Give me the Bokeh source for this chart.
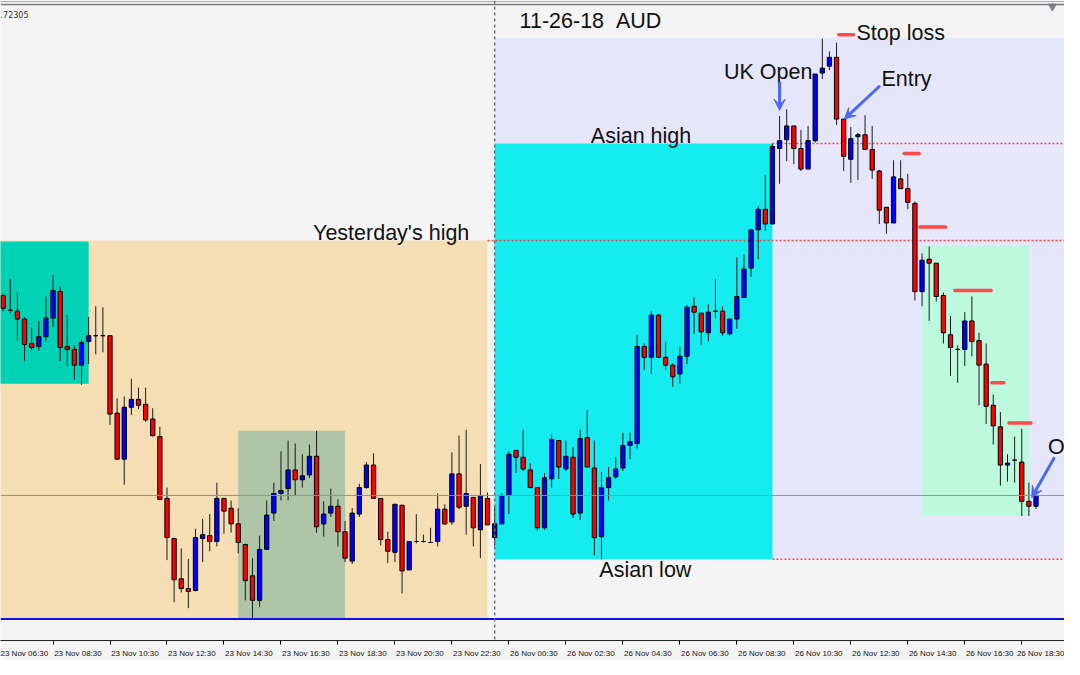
import numpy as np
from bokeh.plotting import figure
from bokeh.models import ColumnDataSource, FixedTicker, Span, Arrow, VeeHead
from bokeh.core.properties import value
from bokeh.embed import file_html
from bokeh.resources import INLINE

# AUDUSD M15 candles; bar 0 = 23 Nov 06:45, bar 69 = 26 Nov 00:00
open_ = [0.72015, 0.72000, 0.71999, 0.71991, 0.71966, 0.71963, 0.71973, 0.71992, 0.72019, 0.71963,
         0.71960, 0.71944, 0.71968, 0.71974, 0.71974, 0.71974, 0.71895, 0.71848, 0.71901, 0.71909,
         0.71904, 0.71889, 0.71871, 0.71808, 0.71767, 0.71726, 0.71716, 0.71714, 0.71767, 0.71770,
         0.71764, 0.71808, 0.71798, 0.71782, 0.71761, 0.71729, 0.71704, 0.71756, 0.71793, 0.71813,
         0.71818, 0.71837, 0.71827, 0.71832, 0.71851, 0.71782, 0.71793, 0.71800, 0.71774, 0.71744,
         0.71792, 0.71819, 0.71842, 0.71808, 0.71766, 0.71753, 0.71801, 0.71735, 0.71764, 0.71764,
         0.71763, 0.71764, 0.71797, 0.71784, 0.71833, 0.71800, 0.71809, 0.71776, 0.71808, 0.71768,
         0.71782, 0.71811, 0.71857, 0.71850, 0.71837, 0.71819, 0.71778, 0.71828, 0.71867, 0.71838,
         0.71850, 0.71793, 0.71870, 0.71839, 0.71769, 0.71819, 0.71830, 0.71839, 0.71862, 0.71864,
         0.71963, 0.71952, 0.71995, 0.71952, 0.71944, 0.71935, 0.71953, 0.72004, 0.71997, 0.71977,
         0.71999, 0.71999, 0.71976, 0.71991, 0.72013, 0.72043, 0.72082, 0.72103, 0.72088, 0.72165,
         0.72174, 0.72188, 0.72165, 0.72144, 0.72173, 0.72242, 0.72249, 0.72258, 0.72195, 0.72154,
         0.72177, 0.72179, 0.72164, 0.72142, 0.72105, 0.72089, 0.72134, 0.72124, 0.72109, 0.72019,
         0.72052, 0.72048, 0.72015, 0.71975, 0.71960, 0.71960, 0.71989, 0.71969, 0.71945, 0.71903,
         0.71881, 0.71842, 0.71847, 0.71845, 0.71805, 0.71800]
high = [0.72017, 0.72032, 0.72018, 0.71993, 0.71983, 0.71989, 0.72014, 0.72036, 0.72024, 0.71995,
        0.71964, 0.71970, 0.71993, 0.72004, 0.72003, 0.71974, 0.71910, 0.71912, 0.71930, 0.71921,
        0.71921, 0.71900, 0.71881, 0.71819, 0.71768, 0.71757, 0.71746, 0.71777, 0.71787, 0.71792,
        0.71824, 0.71808, 0.71806, 0.71798, 0.71761, 0.71747, 0.71770, 0.71806, 0.71824, 0.71856,
        0.71867, 0.71864, 0.71853, 0.71863, 0.71877, 0.71805, 0.71818, 0.71807, 0.71785, 0.71798,
        0.71823, 0.71845, 0.71854, 0.71808, 0.71774, 0.71802, 0.71801, 0.71764, 0.71792, 0.71771,
        0.71778, 0.71813, 0.71802, 0.71855, 0.71872, 0.71878, 0.71809, 0.71843, 0.71814, 0.71799,
        0.71813, 0.71856, 0.71857, 0.71878, 0.71844, 0.71819, 0.71834, 0.71873, 0.71867, 0.71867,
        0.71860, 0.71878, 0.71898, 0.71867, 0.71835, 0.71840, 0.71850, 0.71875, 0.71875, 0.71975,
        0.71966, 0.71999, 0.71996, 0.71968, 0.71946, 0.71963, 0.72005, 0.72013, 0.71997, 0.72006,
        0.72032, 0.72004, 0.71991, 0.72054, 0.72057, 0.72082, 0.72106, 0.72138, 0.72170, 0.72198,
        0.72205, 0.72188, 0.72184, 0.72188, 0.72241, 0.72277, 0.72264, 0.72273, 0.72195, 0.72187,
        0.72181, 0.72199, 0.72188, 0.72143, 0.72105, 0.72153, 0.72153, 0.72139, 0.72111, 0.72058,
        0.72065, 0.72048, 0.72018, 0.71994, 0.71964, 0.71998, 0.72014, 0.71977, 0.71966, 0.71914,
        0.71896, 0.71853, 0.71871, 0.71879, 0.71824, 0.71812]
low = [0.71999, 0.71997, 0.71969, 0.71948, 0.71959, 0.71959, 0.71968, 0.71983, 0.71948, 0.71943,
       0.71929, 0.71924, 0.71945, 0.71955, 0.71957, 0.71883, 0.71848, 0.71822, 0.71893, 0.71899,
       0.71886, 0.71871, 0.71807, 0.71745, 0.71702, 0.71712, 0.71696, 0.71713, 0.71743, 0.71754,
       0.71759, 0.71772, 0.71773, 0.71752, 0.71704, 0.71686, 0.71697, 0.71756, 0.71785, 0.71806,
       0.71806, 0.71811, 0.71819, 0.71829, 0.71773, 0.71769, 0.71789, 0.71759, 0.71743, 0.71741,
       0.71789, 0.71818, 0.71808, 0.71760, 0.71742, 0.71743, 0.71711, 0.71735, 0.71762, 0.71763,
       0.71763, 0.71759, 0.71781, 0.71781, 0.71797, 0.71771, 0.71759, 0.71747, 0.71781, 0.71760,
       0.71782, 0.71792, 0.71834, 0.71836, 0.71819, 0.71775, 0.71776, 0.71819, 0.71828, 0.71836,
       0.71788, 0.71786, 0.71840, 0.71750, 0.71746, 0.71806, 0.71828, 0.71836, 0.71848, 0.71859,
       0.71939, 0.71935, 0.71952, 0.71939, 0.71922, 0.71925, 0.71945, 0.71976, 0.71965, 0.71968,
       0.71992, 0.71974, 0.71974, 0.71981, 0.72013, 0.72034, 0.72052, 0.72081, 0.72088, 0.72129,
       0.72152, 0.72149, 0.72142, 0.72144, 0.72171, 0.72236, 0.72245, 0.72189, 0.72142, 0.72130,
       0.72133, 0.72164, 0.72134, 0.72088, 0.72078, 0.72089, 0.72124, 0.72103, 0.72010, 0.72004,
       0.71989, 0.72009, 0.71966, 0.71933, 0.71926, 0.71943, 0.71953, 0.71903, 0.71884, 0.71863,
       0.71821, 0.71825, 0.71824, 0.71790, 0.71790, 0.71797]
close = [0.72002, 0.72000, 0.71991, 0.71965, 0.71962, 0.71973, 0.71992, 0.72020, 0.71962, 0.71960,
         0.71944, 0.71967, 0.71974, 0.71974, 0.71974, 0.71894, 0.71848, 0.71901, 0.71909, 0.71903,
         0.71888, 0.71872, 0.71807, 0.71768, 0.71725, 0.71716, 0.71713, 0.71768, 0.71771, 0.71764,
         0.71808, 0.71795, 0.71782, 0.71763, 0.71724, 0.71704, 0.71756, 0.71791, 0.71813, 0.71816,
         0.71837, 0.71827, 0.71831, 0.71851, 0.71779, 0.71792, 0.71800, 0.71774, 0.71747, 0.71793,
         0.71819, 0.71842, 0.71808, 0.71766, 0.71754, 0.71802, 0.71734, 0.71764, 0.71764, 0.71764,
         0.71763, 0.71797, 0.71782, 0.71833, 0.71799, 0.71813, 0.71778, 0.71811, 0.71781, 0.71782,
         0.71811, 0.71853, 0.71850, 0.71838, 0.71819, 0.71778, 0.71829, 0.71868, 0.71840, 0.71851,
         0.71792, 0.71869, 0.71840, 0.71768, 0.71819, 0.71829, 0.71838, 0.71862, 0.71866, 0.71963,
         0.71952, 0.71995, 0.71952, 0.71944, 0.71932, 0.71953, 0.72003, 0.71998, 0.71978, 0.71998,
         0.71999, 0.71977, 0.71991, 0.72014, 0.72042, 0.72082, 0.72103, 0.72088, 0.72167, 0.72173,
         0.72188, 0.72165, 0.72144, 0.72173, 0.72241, 0.72247, 0.72258, 0.72195, 0.72157, 0.72175,
         0.72179, 0.72164, 0.72143, 0.72102, 0.72089, 0.72136, 0.72124, 0.72110, 0.72019, 0.72051,
         0.72048, 0.72014, 0.71977, 0.71962, 0.71960, 0.71989, 0.71968, 0.71944, 0.71902, 0.71882,
         0.71842, 0.71844, 0.71847, 0.71805, 0.71800, 0.71811]

# time axis labels (bar index of each label)
tick_bars = [-1, 7, 15, 23, 31, 39, 47, 55, 63, 71, 79, 87, 95, 103, 111, 119, 127, 135, 143]
tick_labels = ["23 Nov 06:30", "23 Nov 08:30", "23 Nov 10:30", "23 Nov 12:30", "23 Nov 14:30",
               "23 Nov 16:30", "23 Nov 18:30", "23 Nov 20:30", "23 Nov 22:30", "26 Nov 00:30",
               "26 Nov 02:30", "26 Nov 04:30", "26 Nov 06:30", "26 Nov 08:30", "26 Nov 10:30",
               "26 Nov 12:30", "26 Nov 14:30", "26 Nov 16:30", "26 Nov 18:30"]

# session levels
yesterday_high = 0.72071
yesterday_low = 0.71685
asian_high = 0.72170
asian_low = 0.71746
ref_line = 0.71811
monday_bar = 69

# shaded zones: left bar, right bar, top, bottom, colour
zone_left = [69, 69, -2, -2, 33, 129]
zone_right = [152, 108, 68, 12, 48, 144]
zone_top = [0.72278, asian_high, yesterday_high, 0.72070, 0.71877, 0.72066]
zone_bottom = [asian_low, asian_low, yesterday_low, 0.71925, yesterday_low, 0.71791]
zone_color = ["#e6e6fa", "#14ecf0", "#f5deb3", "#00d2b6", "#afc5a8", "#bdf9df"]

# stop-loss markers
stop_x0 = [117.3, 126.5, 128.7, 133.6, 138.8, 141.2]
stop_x1 = [119.4, 128.6, 132.3, 138.7, 140.5, 144.3]
stop_price = [0.72281, 0.72160, 0.72085, 0.72020, 0.71926, 0.71885]

o = np.array(open_)
c = np.array(close)
n = len(o)
x = np.arange(n)
col = np.where(c > o, "#0000ff", np.where(c < o, "#ff0000", "#000000"))
src = ColumnDataSource(dict(x=x, h=high, l=low, top=np.maximum(o, c), bot=np.minimum(o, c), col=col))

p = figure(frame_width=1064, frame_height=640, x_range=(-0.373, 149.0), y_range=(0.71663, 0.72316),
           output_backend="svg", toolbar_location=None, y_axis_location=None, min_border=0,
           background_fill_color="#f4f4f4", border_fill_color="#f4f4f4", outline_line_color=None)
p.xgrid.visible = False
p.ygrid.visible = False

p.quad(left=zone_left, right=zone_right, top=zone_top, bottom=zone_bottom,
       fill_color=zone_color, line_color=None)

p.add_layout(Span(location=0.72315, dimension="width", line_color="#a8a8a8", line_width=1))
p.add_layout(Span(location=0.72312, dimension="width", line_color="#7c7c7c", line_width=1.5))
p.add_layout(Span(location=ref_line, dimension="width", line_color="#8494ac", line_width=1))
p.add_layout(Span(location=yesterday_low, dimension="width", line_color="#1010e8", line_width=2))
p.add_layout(Span(location=monday_bar, dimension="height", line_color="#6e6e6e", line_width=1.5,
                  line_dash="3 3"))

p.segment(x0=[108, 68, 108], x1=[152, 152, 152], y0=[asian_high, yesterday_high, asian_low],
          y1=[asian_high, yesterday_high, asian_low], line_color="#ff4040", line_width=1.5,
          line_dash="2 2")

p.segment(x0="x", x1="x", y0="l", y1="h", source=src, line_color="#1a1a1a", line_width=1)
p.vbar(x="x", width=0.6, top="top", bottom="bot", source=src, fill_color="col",
       line_color="#000000", line_width=1)

p.segment(x0=stop_x0, x1=stop_x1, y0=stop_price, y1=stop_price, line_color="#ff4848",
          line_width=3.5, line_cap="round")

arrow_color = "#4a68f2"
for xs, ys, xe, ye in [(109, 0.72233, 109, 0.72204), (123.1, 0.72229, 118.1, 0.72195),
                       (147.6, 0.71850, 144.4, 0.71809)]:
    p.add_layout(Arrow(end=VeeHead(size=11, fill_color=arrow_color, line_color=arrow_color),
                       x_start=xs, y_start=ys, x_end=xe, y_end=ye,
                       line_color=arrow_color, line_width=3))

p.scatter(x=[147.3], y=[0.72310], marker="inverted_triangle", size=8, color="#7a8590")

labels = [("11-26-18\u00a0\u00a0AUD", 72.5, 0.72295), ("Stop loss", 119.8, 0.722825),
          ("UK Open", 101.2, 0.72243), ("Entry", 123.3, 0.72236), ("Asian high", 82.5, 0.72178),
          ("Yesterday's high", 43.5, 0.72079), ("Asian low", 83.7, 0.71735), ("O", 146.7, 0.71860)]
p.text(x=[l[1] for l in labels], y=[l[2] for l in labels], text=[l[0] for l in labels],
       text_font=value("Liberation Sans"), text_font_size="21.5px", text_color="#111111",
       text_align="left", text_baseline="alphabetic")
p.text(x=[-0.37], y=[0.72302], text=[".72305"], text_font=value("DejaVu Sans"),
       text_font_size="8px", text_color="#333333", text_align="left", text_baseline="alphabetic")

label_offset = 3.5
p.xaxis.ticker = FixedTicker(ticks=[t + label_offset for t in tick_bars], minor_ticks=tick_bars)
p.xaxis.major_label_overrides = {t + label_offset: s for t, s in zip(tick_bars, tick_labels)}
p.xaxis.major_tick_out = 0
p.xaxis.major_tick_in = 0
p.xaxis.minor_tick_out = 4
p.xaxis.minor_tick_in = 0
p.xaxis.minor_tick_line_color = "#000000"
p.xaxis.axis_line_color = "#222222"
p.xaxis.major_label_text_font = "Liberation Sans"
p.xaxis.major_label_text_font_size = "8px"
p.xaxis.major_label_text_color = "#111111"
p.xaxis.major_label_standoff = 4

open("out.html", "w").write(file_html(p, INLINE))
